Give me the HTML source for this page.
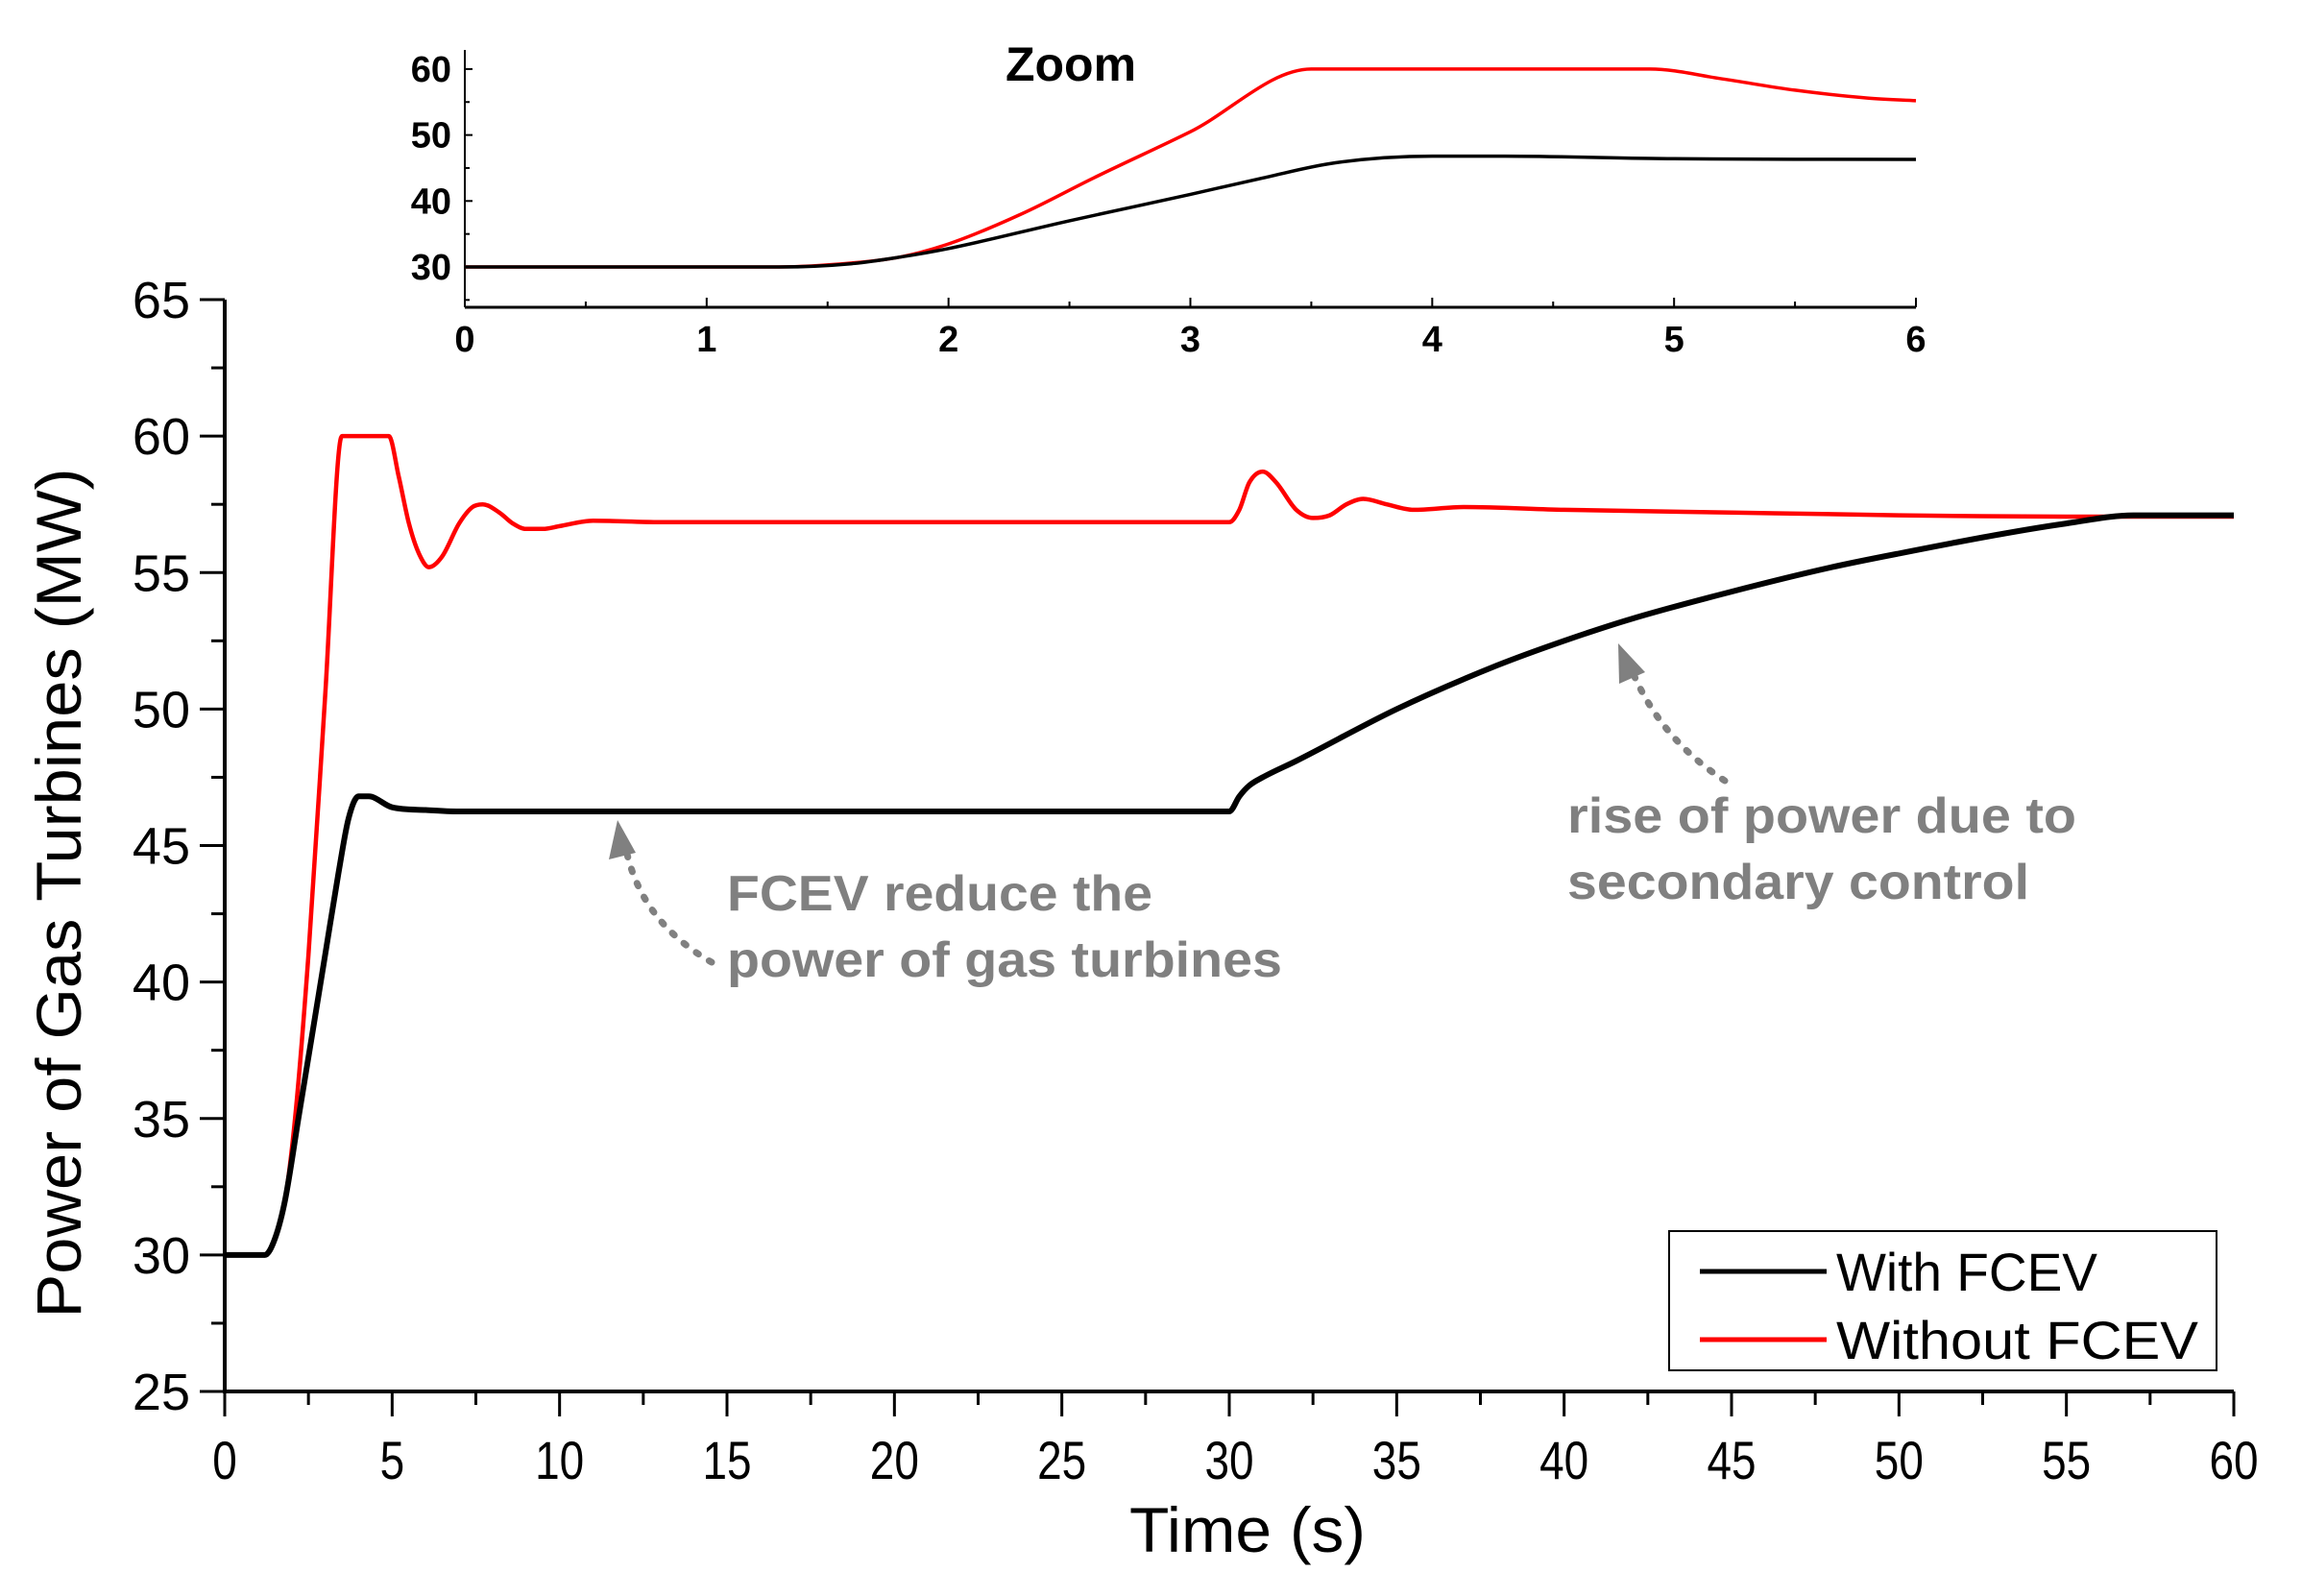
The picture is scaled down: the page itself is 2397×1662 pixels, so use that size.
<!DOCTYPE html>
<html><head><meta charset="utf-8"><style>
html,body{margin:0;padding:0;background:#fff}
svg{display:block;font-family:"Liberation Sans",sans-serif}
</style></head><body>
<svg id="chart" width="2397" height="1662" viewBox="0 0 2397 1662" xmlns="http://www.w3.org/2000/svg"></svg>
<script>
const xTicks=[0,5,10,15,20,25,30,35,40,45,50,55,60];
const yTicks=[25,30,35,40,45,50,55,60,65];
const tWith=[0,1.2,1.5,1.8,2.2,2.6,3,3.4,3.7,4,4.3,5,6,7,30,30.3,30.6,31,32,35,38,40,42,45,48,50,53,55,57,60];
const vWith=[30,30,30.6,32,35,38,41,44,46,46.8,46.8,46.4,46.3,46.25,46.25,46.8,47.2,47.5,48.1,50,51.6,52.5,53.3,54.3,55.2,55.7,56.4,56.8,57.1,57.1];
const tWo=[0,1.2,1.5,1.8,2.1,2.5,3,3.5,4.9,5.2,5.5,5.8,6.1,6.5,7,7.4,7.7,8.2,8.6,9,9.5,10,11,13,30,30.3,30.6,31,31.4,32,32.5,33,33.5,34,34.7,35.5,37,40,45,50,55,60];
const vWo=[30,30,30.6,32,35,41,50.5,60,60,58.5,56.8,55.7,55.2,55.6,56.8,57.4,57.5,57.2,56.8,56.6,56.6,56.7,56.9,56.85,56.85,57.3,58.3,58.7,58.3,57.3,57,57.1,57.5,57.7,57.5,57.3,57.4,57.3,57.2,57.1,57.05,57.05];
const zTicksX=[0,1,2,3,4,5,6];
const zTicksY=[30,40,50,60];
const zT=[0,1.3,1.6,1.8,2,2.5,3,3.3,3.6,4,4.3,5,6];
const zWith=[30,30,30.5,31.5,32.8,37,41,43.5,45.8,46.8,46.8,46.4,46.3];
const zT2=[0,1.3,1.6,1.8,2,2.3,2.6,3,3.5,4.9,5.2,5.5,5.8,6];
const zWo=[30,30,30.6,31.5,33.5,38,43.5,50.5,60,60,58.5,56.8,55.6,55.2];

const NS="http://www.w3.org/2000/svg";
const svg=document.getElementById('chart');
function mk(tag,attrs,parent){const e=document.createElementNS(NS,tag);for(const k in attrs)e.setAttribute(k,attrs[k]);(parent||svg).appendChild(e);return e;}
const X=t=>234+t*(2326-234)/60;
const Y=v=>1449-(v-25)*(1449-312)/40;
const ZX=t=>484+t*(1995-484)/6;
const ZY=v=>278-(v-30)*6.87;

let g=mk('g',{});


mk('line',{x1:X(0),y1:Y(25),x2:X(60),y2:Y(25),stroke:'#000','stroke-width':4},g);
mk('line',{x1:X(0),y1:Y(25)+2,x2:X(0),y2:Y(65),stroke:'#000','stroke-width':4},g);
for(let t=0;t<=60;t+=2.5){const maj=t%5===0;mk('line',{x1:X(t),y1:Y(25),x2:X(t),y2:Y(25)+(maj?26:14),stroke:'#000','stroke-width':3},g);}
for(let v=25;v<=65;v+=2.5){const maj=v%5===0;mk('line',{x1:X(0),y1:Y(v),x2:X(0)-(maj?26:14),y2:Y(v),stroke:'#000','stroke-width':3},g);}
xTicks.forEach(t=>{const e=mk('text',{x:X(t),y:1540,'font-size':56,'text-anchor':'middle',transform:`translate(${X(t)},0) scale(0.82,1) translate(${-X(t)},0)`},g);e.textContent=t;
});
yTicks.forEach(v=>{const e=mk('text',{x:198,y:Y(v)+19,'font-size':54,'text-anchor':'end'},g);e.textContent=v;
});
let xt=mk('text',{x:1176,y:1616,'font-size':66,textLength:246,lengthAdjust:'spacingAndGlyphs'});xt.textContent='Time (s)';

let yt=mk('text',{x:0,y:0,'font-size':66,'text-anchor':'middle',textLength:885,lengthAdjust:'spacingAndGlyphs',transform:'translate(84,930) rotate(-90)'});yt.textContent='Power of Gas Turbines (MW)';


// monotone cubic (Fritsch-Carlson) path, no overshoot
function line(ts,vs,fx,fy,col,w,name){
  const P=ts.map((t,i)=>[fx(t),fy(vs[i])]);
  const n=P.length,dl=[],m=[];
  for(let i=0;i<n-1;i++)dl.push((P[i+1][1]-P[i][1])/(P[i+1][0]-P[i][0]));
  m[0]=dl[0];m[n-1]=dl[n-2];
  for(let i=1;i<n-1;i++){m[i]=(dl[i-1]*dl[i]<=0)?0:(dl[i-1]+dl[i])/2;}
  for(let i=0;i<n-1;i++){if(dl[i]===0){m[i]=0;m[i+1]=0;continue;}
    const a=m[i]/dl[i],b=m[i+1]/dl[i],s=a*a+b*b;if(s>9){const tt=3/Math.sqrt(s);m[i]=tt*a*dl[i];m[i+1]=tt*b*dl[i];}}
  let d='M'+P[0][0].toFixed(1)+','+P[0][1].toFixed(1);
  for(let i=0;i<n-1;i++){const h=(P[i+1][0]-P[i][0])/3;
    d+='C'+(P[i][0]+h).toFixed(1)+','+(P[i][1]+m[i]*h).toFixed(1)+' '+(P[i+1][0]-h).toFixed(1)+','+(P[i+1][1]-m[i+1]*h).toFixed(1)+' '+P[i+1][0].toFixed(1)+','+P[i+1][1].toFixed(1);}
  const p=mk('path',{d:d,fill:'none',stroke:col,'stroke-width':w,'stroke-linejoin':'round'});
  return p;}
line(tWo,vWo,X,Y,'#ff0000',4.5,'series-without-fcev');
line(tWith,vWith,X,Y,'#000',6,'series-with-fcev');

const gray='#808080';
function ann(txt,x,y,len,name){const e=mk('text',{x:x,y:y,'font-size':52,'font-weight':'bold',fill:gray,textLength:len,lengthAdjust:'spacingAndGlyphs'});e.textContent=txt;
}
ann('FCEV reduce the',757,948,443,'annotation-fcev');
ann('power of gas turbines',757,1017,578,'annotation-fcev-2');
ann('rise of power due to',1632,867,530,'annotation-secondary');
ann('secondary control',1632,936,481,'annotation-secondary-2');
let a1=mk('path',{d:'M741,1002 Q668,960 652,885',fill:'none',stroke:gray,'stroke-width':7,'stroke-dasharray':'3 13','stroke-linecap':'round'});

mk('polygon',{points:'643,854 634,895 662,888',fill:gray});
let a2=mk('path',{d:'M1796,813 Q1730,770 1700,700',fill:'none',stroke:gray,'stroke-width':7,'stroke-dasharray':'3 13','stroke-linecap':'round'});

mk('polygon',{points:'1685,670 1686,712 1713,700',fill:gray});

let lg=mk('g',{});

mk('rect',{x:1738,y:1282,width:570,height:145,fill:'#fff',stroke:'#000','stroke-width':2},lg);
mk('line',{x1:1770,y1:1324,x2:1902,y2:1324,stroke:'#000','stroke-width':5},lg);
mk('line',{x1:1770,y1:1395,x2:1902,y2:1395,stroke:'#ff0000','stroke-width':5},lg);
let l1=mk('text',{x:1912,y:1344,'font-size':56,textLength:272,lengthAdjust:'spacingAndGlyphs'},lg);l1.textContent='With FCEV';

let l2=mk('text',{x:1912,y:1415,'font-size':56,textLength:377,lengthAdjust:'spacingAndGlyphs'},lg);l2.textContent='Without FCEV';


let zg=mk('g',{});

mk('line',{x1:ZX(0),y1:320,x2:ZX(6),y2:320,stroke:'#000','stroke-width':3},zg);
mk('line',{x1:ZX(0),y1:320,x2:ZX(0),y2:52,stroke:'#000','stroke-width':2},zg);
for(let t=0;t<=6;t+=0.5){mk('line',{x1:ZX(t),y1:320,x2:ZX(t),y2:t%1===0?310:314,stroke:'#000','stroke-width':2},zg);}
for(let v=25;v<=60;v+=5){mk('line',{x1:ZX(0),y1:ZY(v),x2:ZX(0)+(v%10===0?8:5),y2:ZY(v),stroke:'#000','stroke-width':2},zg);}
zTicksX.forEach(t=>{const e=mk('text',{x:ZX(t),y:366,'font-size':38,'font-weight':'bold','text-anchor':'middle'},zg);e.textContent=t;
});
zTicksY.forEach(v=>{const e=mk('text',{x:470,y:ZY(v)+13,'font-size':38,'font-weight':'bold','text-anchor':'end'},zg);e.textContent=v;
});
let zt=mk('text',{x:1115,y:84,'font-size':50,'font-weight':'bold','text-anchor':'middle'},zg);zt.textContent='Zoom';

line(zT2,zWo,ZX,ZY,'#ff0000',3.5,'zoom-series-without-fcev');
line(zT,zWith,ZX,ZY,'#000',3.5,'zoom-series-with-fcev');
</script>
</body></html>
